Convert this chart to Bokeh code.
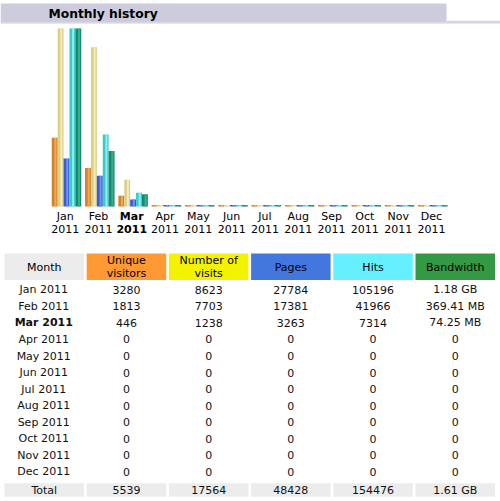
from bokeh.plotting import figure
from bokeh.models import Range1d, ColumnDataSource
from bokeh.core.properties import value
from bokeh.embed import file_html
from bokeh.resources import INLINE

# ---------------- data ----------------
title = "Monthly history"
months = ["Jan", "Feb", "Mar", "Apr", "May", "Jun", "Jul", "Aug", "Sep", "Oct", "Nov", "Dec"]
year = "2011"
current_month = "Mar"
unique_visitors = [3280, 1813, 446, 0, 0, 0, 0, 0, 0, 0, 0, 0]
visits = [8623, 7703, 1238, 0, 0, 0, 0, 0, 0, 0, 0, 0]
pages = [27784, 17381, 3263, 0, 0, 0, 0, 0, 0, 0, 0, 0]
hits = [105196, 41966, 7314, 0, 0, 0, 0, 0, 0, 0, 0, 0]
bandwidth_mb = [1208.32, 369.41, 74.25, 0, 0, 0, 0, 0, 0, 0, 0, 0]
header_labels = ["Month", "Unique\nvisitors", "Number of\nvisits", "Pages", "Hits", "Bandwidth"]
total_label = "Total"

# ---------------- styles ----------------
FONT = value("DejaVu Sans")
W, H = 500, 501
header_colors = ["#ECECEC", "#FF9933", "#F3F300", "#4477DD", "#66F0FF", "#339944"]
bar_base = ["#D3832A", "#DCCF86", "#3A5BD2", "#3FCACA", "#178A6E"]
bar_hi = ["#EBAA5E", "#F3ECBA", "#7393F2", "#8EF0F0", "#3CAE8E"]


def fmt_bw(mb):
    if mb == 0:
        return "0"
    if mb >= 1024:
        return f"{mb / 1024:.2f} GB"
    return f"{mb:.2f} MB"


p = figure(width=W, height=H, output_backend="svg", toolbar_location=None,
           x_range=Range1d(0, W), y_range=Range1d(H, 0),
           x_axis_location=None, y_axis_location=None, min_border=0)
p.grid.visible = False
p.outline_line_color = None
p.background_fill_color = "white"
p.border_fill_color = "white"

# ---------------- title band ----------------
p.quad(left=0, right=W, top=22.2, bottom=23.6, fill_color="#E6E6EE", line_color=None)
p.quad(left=446, right=W, top=20.3, bottom=22.6, fill_color="#D6D6E2", line_color=None)
p.quad(left=0, right=446, top=3, bottom=22.3, fill_color="#CCCCDD", line_color=None)
p.text(x=[48], y=[13], text=[title], text_font=FONT, text_font_size="12.3px",
       text_font_style="bold", text_align="left", text_baseline="middle", text_color="#000000")

# ---------------- bar chart ----------------
n = len(months)
idx = list(range(n))
C0, PITCH = 66.0, 33.3          # pixel centre of first month, pixel pitch
BASE, TOP, MINPX = 204.5, 28.0, 1.6
p.extra_x_ranges = {"m": Range1d(-C0 / PITCH, (W - C0) / PITCH)}


def yrange(maxv):
    u = maxv / (BASE - TOP)
    return Range1d(-(H - BASE) * u, BASE * u)


max_v = max(visits)
max_h = max(hits)
max_k = max(bandwidth_mb)
p.extra_y_ranges = {"v": yrange(max_v), "h": yrange(max_h), "k": yrange(max_k)}
range_max = {"v": max_v, "h": max_h, "k": max_k}

series = [(unique_visitors, "v"), (visits, "v"), (pages, "h"), (hits, "h"), (bandwidth_mb, "k")]
BW = 5.9 / PITCH
for k, (vals, rn) in enumerate(series):
    off = (k - 2) * BW
    u = range_max[rn] / (BASE - TOP)
    src = ColumnDataSource(dict(x=[i + off for i in idx], top=vals,
                                bottom=[-MINPX * u] * n,
                                xh=[i + off + 0.12 * BW for i in idx]))
    p.vbar(x="x", top="top", bottom="bottom", width=BW, source=src,
           x_range_name="m", y_range_name=rn, fill_color=bar_base[k], line_color=None)
    p.vbar(x="xh", top="top", bottom="bottom", width=BW * 0.34, source=src,
           x_range_name="m", y_range_name=rn, fill_color=bar_hi[k], line_color=None)

lab_x = [i - 0.04 for i in idx]
normal = [i for i in idx if months[i] != current_month]
bold = [i for i in idx if months[i] == current_month]
for sel, style in ((normal, "normal"), (bold, "bold")):
    xs = [lab_x[i] for i in sel]
    p.text(x=xs, y=[216] * len(sel), text=[months[i] for i in sel], x_range_name="m",
           text_font=FONT, text_font_size="11px", text_font_style=style,
           text_align="center", text_baseline="middle", text_color="#000000")
    p.text(x=xs, y=[228] * len(sel), text=[year] * len(sel), x_range_name="m",
           text_font=FONT, text_font_size="11px", text_font_style=style,
           text_align="center", text_baseline="middle", text_color="#000000")

# ---------------- table ----------------
COL0, COLP, COLW = 4.0, 82.2, 79.5
ncol = len(header_labels)
lefts = [COL0 + COLP * c for c in range(ncol)]
centres = [l + COLW / 2 for l in lefts]
HT, HB = 253, 279.5
p.quad(left=lefts, right=[l + COLW for l in lefts], top=[HT] * ncol, bottom=[HB] * ncol,
       fill_color=header_colors, line_color=None)
hx, hy, ht = [], [], []
for c, lab in enumerate(header_labels):
    parts = lab.split("\n")
    if len(parts) == 1:
        hx.append(centres[c]); hy.append((HT + HB) / 2 + 0.5); ht.append(parts[0])
    else:
        hx += [centres[c], centres[c]]; hy += [260, 273]; ht += parts
p.text(x=hx, y=hy, text=ht, text_font=FONT, text_font_size="11px",
       text_align="center", text_baseline="middle", text_color="#000000")

ROW0, ROWP = 289.3, 16.55
columns = [
    [f"{m} {year}" for m in months],
    [str(v) for v in unique_visitors],
    [str(v) for v in visits],
    [str(v) for v in pages],
    [str(v) for v in hits],
    [fmt_bw(v) for v in bandwidth_mb],
]
# month column (current month in bold)
for sel, style in ((normal, "normal"), (bold, "bold")):
    p.text(x=[centres[0] - 0.5] * len(sel), y=[ROW0 + ROWP * i for i in sel],
           text=[columns[0][i] for i in sel], text_font=FONT, text_font_size="11px",
           text_font_style=style, text_align="center", text_baseline="middle",
           text_color="#111111")
# value columns
tx, ty, tt = [], [], []
for c in range(1, ncol):
    for i in idx:
        tx.append(centres[c])
        ty.append(ROW0 + ROWP * i)
        tt.append(columns[c][i])
p.text(x=tx, y=ty, text=tt, text_font=FONT, text_font_size="11px",
       text_align="center", text_baseline="middle", text_color="#111111")

# total row
TT, TB = 482.7, 496.3
p.quad(left=lefts, right=[l + COLW for l in lefts], top=[TT] * ncol, bottom=[TB] * ncol,
       fill_color="#ECECEC", line_color=None)
totals = [total_label, str(sum(unique_visitors)), str(sum(visits)), str(sum(pages)),
          str(sum(hits)), fmt_bw(sum(bandwidth_mb))]
p.text(x=centres, y=[489.7] * ncol, text=totals, text_font=FONT, text_font_size="11px",
       text_align="center", text_baseline="middle", text_color="#111111")

open("out.html", "w").write(file_html(p, INLINE))
